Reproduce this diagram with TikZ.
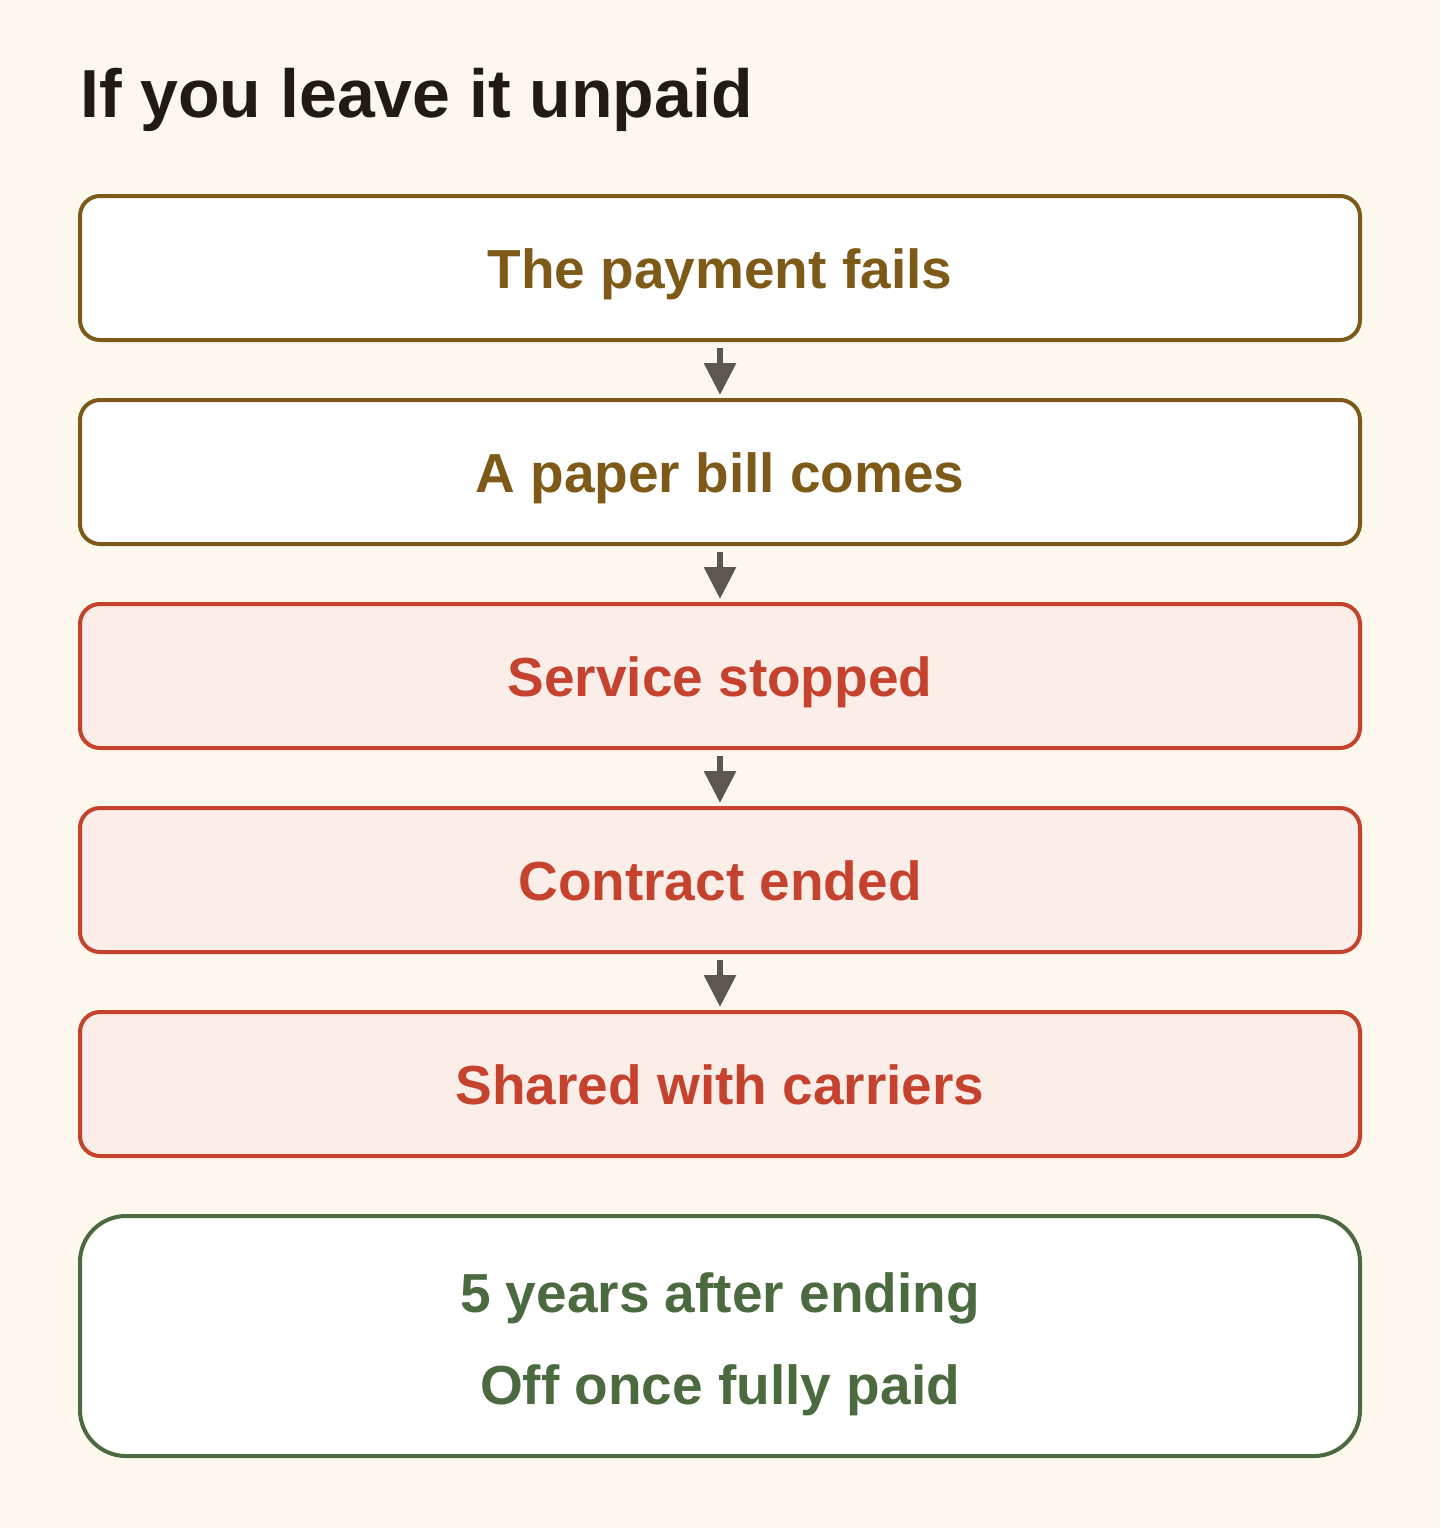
\documentclass[tikz,border=0pt]{standalone}
\usepackage{fontspec}
\setmainfont{Liberation Sans}
\usetikzlibrary{arrows.meta}
\definecolor{bgc}{HTML}{FCF8EE}
\definecolor{brownc}{HTML}{7D5A17}
\definecolor{redc}{HTML}{C5432E}
\definecolor{redfill}{HTML}{FBEDE8}
\definecolor{greenc}{HTML}{4C6A40}
\definecolor{arrowc}{HTML}{5F574C}
\definecolor{titlec}{HTML}{231A10}
\tikzset{
  stepbox/.style={draw, rectangle, rounded corners=20pt, line width=4pt,
    minimum width=1280pt, minimum height=144pt, inner sep=0pt,
    font=\fontsize{55}{60}\selectfont\bfseries, text height=40pt, text depth=0pt},
  brownbox/.style={stepbox, draw=brownc, fill=white, text=brownc},
  redbox/.style={stepbox, draw=redc, fill=redfill, text=redc},
  greenbox/.style={draw=greenc, fill=white, rectangle, rounded corners=46pt, line width=4pt,
    minimum width=1280pt, minimum height=240pt, inner sep=0pt},
  greentext/.style={text=greenc, font=\fontsize{55}{60}\selectfont\bfseries, inner sep=0pt,
    text height=40pt, text depth=0pt},
  flowarrow/.style={draw=arrowc, line width=6pt, -{Triangle[length=32pt,width=31pt]},
    shorten <=6pt, shorten >=3pt}
}
\begin{document}
\begin{tikzpicture}[x=1pt,y=-1pt]
\fill[bgc] (0,0) rectangle (1440,1528);
\useasboundingbox (0,0) rectangle (1440,1528);
\node[anchor=base west, inner sep=0pt, text=titlec, font=\fontsize{68}{72}\selectfont\bfseries] (title) at (80,117) {If you leave it unpaid};
\node[brownbox] (b1) at (720,268) {The payment fails};
\node[brownbox] (b2) at (720,472) {A paper bill comes};
\node[redbox] (b3) at (720,676) {Service stopped};
\node[redbox] (b4) at (720,880) {Contract ended};
\node[redbox] (b5) at (720,1084) {Shared with carriers};
\node[greenbox] (g) at (720,1336) {};
\node[greentext] (g1) at (720,1292) {5 years after ending};
\node[greentext] (g2) at (720,1384) {Off once fully paid};
\draw[flowarrow] (b1.south) -- (b2.north);
\draw[flowarrow] (b2.south) -- (b3.north);
\draw[flowarrow] (b3.south) -- (b4.north);
\draw[flowarrow] (b4.south) -- (b5.north);
\end{tikzpicture}
\end{document}
